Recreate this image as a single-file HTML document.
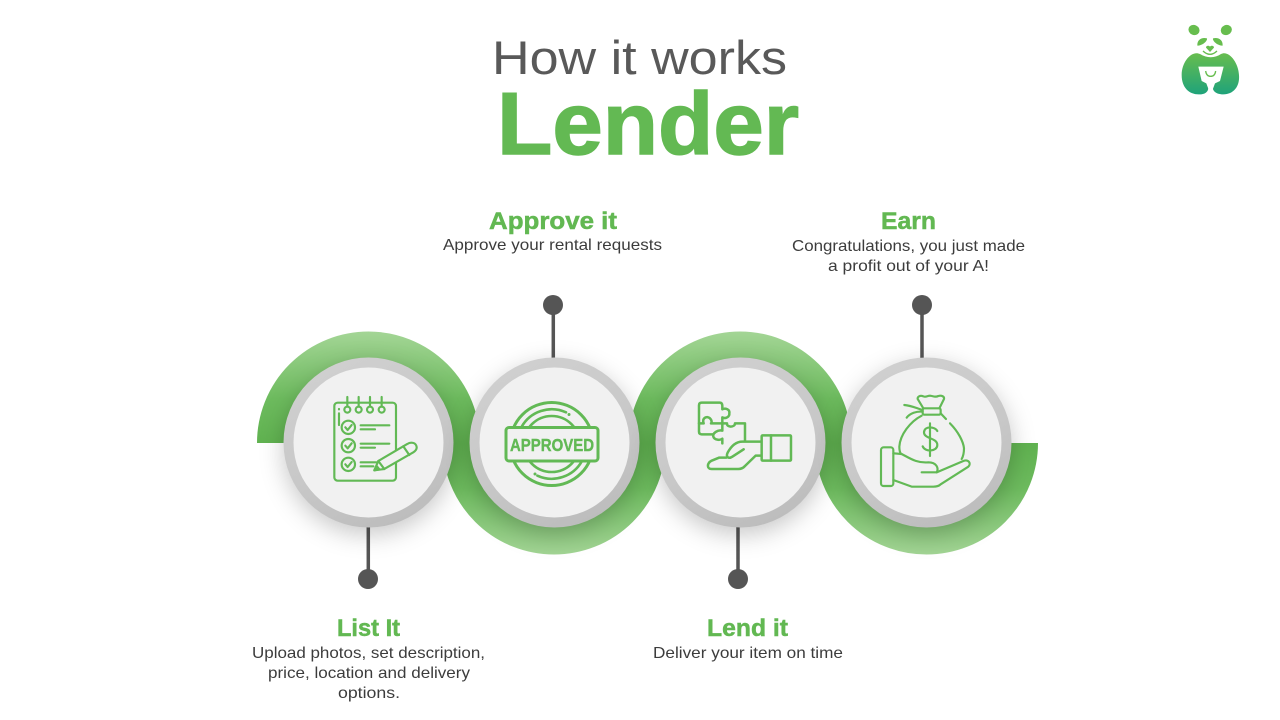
<!DOCTYPE html>
<html>
<head>
<meta charset="utf-8">
<style>
html,body{margin:0;padding:0;background:#fff;width:1280px;height:720px;overflow:hidden}
svg{display:block}
text{font-family:"Liberation Sans",sans-serif}
.h{font-weight:bold;font-size:24px;fill:#62b852;stroke:#62b852;stroke-width:.5}
.b{font-size:16px;fill:#3c3c3c}
.i{fill:none;stroke:#62b955;stroke-linecap:round;stroke-linejoin:round}
</style>
</head>
<body>
<svg width="1280" height="720" viewBox="0 0 1280 720" xmlns="http://www.w3.org/2000/svg">
<defs>
<linearGradient id="g" gradientUnits="userSpaceOnUse" x1="0" y1="332" x2="0" y2="555">
<stop offset="0" stop-color="#a3d595"/><stop offset=".3" stop-color="#6dbb5e"/><stop offset=".5" stop-color="#60b250"/><stop offset=".7" stop-color="#6dbb5e"/><stop offset="1" stop-color="#a3d595"/>
</linearGradient>
<linearGradient id="r" x1=".25" y1="0" x2=".7" y2="1">
<stop offset="0" stop-color="#d0d0d0"/><stop offset=".55" stop-color="#c8c8c8"/><stop offset="1" stop-color="#bcbcbc"/>
</linearGradient>
<linearGradient id="lg" x1="0" y1="0" x2="0" y2="1">
<stop offset="0" stop-color="#67bd4e"/><stop offset="1" stop-color="#1fa37a"/>
</linearGradient>
<filter id="s" x="-50%" y="-50%" width="200%" height="200%" color-interpolation-filters="sRGB"><feDropShadow dx="0" dy="7" stdDeviation="12" flood-color="#000" flood-opacity=".22"/></filter>
<clipPath id="stamp"><path d="M495 390H610V427H495ZM495 461H610V500H495Z"/></clipPath>
</defs>

<text x="492" y="74" font-size="47" fill="#595959" textLength="295" lengthAdjust="spacingAndGlyphs">How it works</text>
<text x="497" y="154" font-size="88" font-weight="bold" fill="#63b953" stroke="#63b953" stroke-width="1.4" textLength="302" lengthAdjust="spacingAndGlyphs">Lender</text>

<g transform="translate(1165 15) scale(.3333)">
<ellipse cx="87" cy="45" rx="17" ry="15" fill="#67bd4e" transform="rotate(25 87 45)"/>
<ellipse cx="184" cy="45" rx="17" ry="15" fill="#67bd4e" transform="rotate(-25 184 45)"/>
<path d="M105 117C80 105 50 140 50 180C50 220 75 240 105 238C125 238 135 225 128 205H145C138 225 150 238 175 238C205 238 225 215 222 180C220 140 190 105 168 117C150 130 125 130 105 117Z" fill="url(#lg)"/>
<path d="M100 155H176L165 198L150 205L137 240L124 205L110 198Z" fill="#fff"/>
<path d="M97 92C96 74 110 66 126 70C128 78 112 92 97 92ZM173 92C174 74 160 66 144 70C142 78 158 92 173 92Z" fill="#67bd4e"/>
<path d="M135 111L123 98C123 91 132 91 135 95C138 91 147 91 147 98Z" fill="#67bd4e"/>
<path d="M114 108Q135 128 156 108" fill="none" stroke="#67bd4e" stroke-width="4"/>
<path d="M122 168Q124 184 137 184Q150 184 152 168" fill="none" stroke="#67bd4e" stroke-width="4"/>
</g>

<g fill="none" stroke="url(#g)" stroke-width="31">
<path d="M272.5 443A96 96 0 0 1 464.5 443"/>
<path d="M458 443A96 96 0 0 0 650 443"/>
<path d="M644 443A96 96 0 0 1 836 443"/>
<path d="M830.5 443A96 96 0 0 0 1022.5 443"/>
</g>

<g stroke="#555" stroke-width="3.5">
<path d="M553.3 305V358M922 305V358M368.3 527V579M738 527V579"/>
</g>
<g fill="#555">
<circle cx="553" cy="305" r="10"/><circle cx="922" cy="305" r="10"/>
<circle cx="368" cy="579" r="10"/><circle cx="738" cy="579" r="10"/>
</g>

<g filter="url(#s)"><circle cx="368.5" cy="442.5" r="85" fill="url(#r)"/></g>
<circle cx="368.5" cy="442.5" r="75" fill="#f1f1f1"/>
<g filter="url(#s)"><circle cx="554.5" cy="442.5" r="85" fill="url(#r)"/></g>
<circle cx="554.5" cy="442.5" r="75" fill="#f1f1f1"/>
<g filter="url(#s)"><circle cx="740.5" cy="442.5" r="85" fill="url(#r)"/></g>
<circle cx="740.5" cy="442.5" r="75" fill="#f1f1f1"/>
<g filter="url(#s)"><circle cx="926.5" cy="442.5" r="85" fill="url(#r)"/></g>
<circle cx="926.5" cy="442.5" r="75" fill="#f1f1f1"/>

<!-- checklist -->
<g class="i" transform="translate(320 385) scale(.3333)" stroke-width="6.5">
<rect x="43" y="53" width="185" height="234" rx="10"/>
<circle cx="82" cy="74" r="9" fill="#f1f1f1"/><circle cx="116" cy="74" r="9" fill="#f1f1f1"/><circle cx="150" cy="74" r="9" fill="#f1f1f1"/><circle cx="185" cy="74" r="9" fill="#f1f1f1"/>
<path d="M82 36V64M116 36V64M150 36V64M185 36V64"/>
<path d="M57 72V73M57 85V120"/>
<circle cx="85" cy="127" r="20"/><circle cx="85" cy="182" r="20"/><circle cx="85" cy="238" r="20"/>
<path d="M76 127L83 135L95 120M76 182L83 190L95 175M76 238L83 246L95 231"/>
<path d="M122 121H208M122 133H165M122 176H208M122 188H165M122 232H170M122 244H160"/>
<path d="M163 256L175 228L262 177C272 170 288 172 290 186C291 194 286 198 280 202L193 252Z" fill="#f1f1f1"/>
<path d="M175 228L193 252M250 184L268 210"/>
<path d="M163 256L178 253L170 243Z" fill="#62b955"/>
</g>

<!-- approved -->
<g class="i" stroke-width="2.6">
<g clip-path="url(#stamp)">
<circle cx="551.7" cy="444" r="41.5" stroke-width="3"/>
<path d="M521.5 427A34.7 34.7 0 0 1 566 412.3"/>
<path d="M582 461A34.7 34.7 0 0 1 537.4 475.7"/>
<circle cx="551.7" cy="444" r="28"/>
<path d="M569 414.5h.01M535 474h.01" stroke-width="3"/>
</g>
<rect x="506" y="427.5" width="92" height="33.5" rx="3" stroke-width="3"/>
</g>
<text x="510" y="451" font-size="17.5" font-weight="bold" fill="#62b955" stroke="#62b955" stroke-width=".4" textLength="84" lengthAdjust="spacingAndGlyphs">APPROVED</text>

<!-- puzzle and hand -->
<g class="i" transform="translate(685 390) scale(.3333)" stroke-width="7.5">
<path d="M112 100V82C122 88 134 80 133 70C135 60 123 52 112 58V48Q112 38 104 38H50Q42 38 42 46V125Q42 133 50 133H84"/>
<path d="M42 100H56C50 85 65 76 75 85C82 92 80 100 78 100H112"/>
<path d="M112 100H126C124 113 150 113 150 100H180V152"/>
<path d="M112 102V122C98 118 82 130 85 140C88 150 105 152 112 146V160"/>
<path d="M228 155H172C155 155 140 166 128 188C122 200 130 208 142 200L176 178"/>
<path d="M228 197H212L180 228Q172 237 160 237H80C65 237 65 220 80 212L102 203H124"/>
<rect x="230" y="136" width="88" height="76" rx="3"/>
<path d="M258 136V212"/>
</g>

<!-- money bag -->
<g class="i" transform="translate(870 385) scale(.3333)" stroke-width="6.5">
<path d="M160 70L143 42C142 35 150 30 160 34C168 38 172 32 180 32C190 33 195 38 205 33C215 30 224 35 222 42L208 70"/>
<rect x="158" y="70" width="54" height="19" rx="5"/>
<path d="M103 60C125 62 140 70 158 75M110 98C120 85 140 78 158 80M212 85L228 102"/>
<path d="M155 92C120 110 90 150 88 185C88 195 90 203 93 207"/>
<path d="M240 115C265 140 280 170 282 190C282 205 279 215 275 222"/>
<path d="M180 115V213"/>
<path d="M202 138C195 124 163 122 162 142C162 162 202 158 202 180C202 200 165 202 158 184"/>
<rect x="33" y="187" width="37" height="116" rx="8"/>
<path d="M70 205L95 207C120 220 140 235 175 232C200 232 207 250 200 262H155"/>
<path d="M200 262L280 228C295 222 305 235 295 245L212 298Q205 305 190 305H125L70 285"/>
</g>

<text class="h" x="489" y="229" textLength="128" lengthAdjust="spacingAndGlyphs">Approve it</text>
<text class="b" x="443" y="250" textLength="219" lengthAdjust="spacingAndGlyphs">Approve your rental requests</text>

<text class="h" x="881" y="229" textLength="55" lengthAdjust="spacingAndGlyphs">Earn</text>
<text class="b" x="792" y="251" textLength="233" lengthAdjust="spacingAndGlyphs">Congratulations, you just made</text>
<text class="b" x="828" y="271" textLength="161" lengthAdjust="spacingAndGlyphs">a profit out of your A!</text>

<text class="h" x="337" y="636" textLength="63" lengthAdjust="spacingAndGlyphs">List It</text>
<text class="b" x="252" y="658" textLength="233" lengthAdjust="spacingAndGlyphs">Upload photos, set description,</text>
<text class="b" x="268" y="678" textLength="202" lengthAdjust="spacingAndGlyphs">price, location and delivery</text>
<text class="b" x="338" y="698" textLength="62" lengthAdjust="spacingAndGlyphs">options.</text>

<text class="h" x="707" y="636" textLength="81" lengthAdjust="spacingAndGlyphs">Lend it</text>
<text class="b" x="653" y="658" textLength="190" lengthAdjust="spacingAndGlyphs">Deliver your item on time</text>
</svg>
</body>
</html>
